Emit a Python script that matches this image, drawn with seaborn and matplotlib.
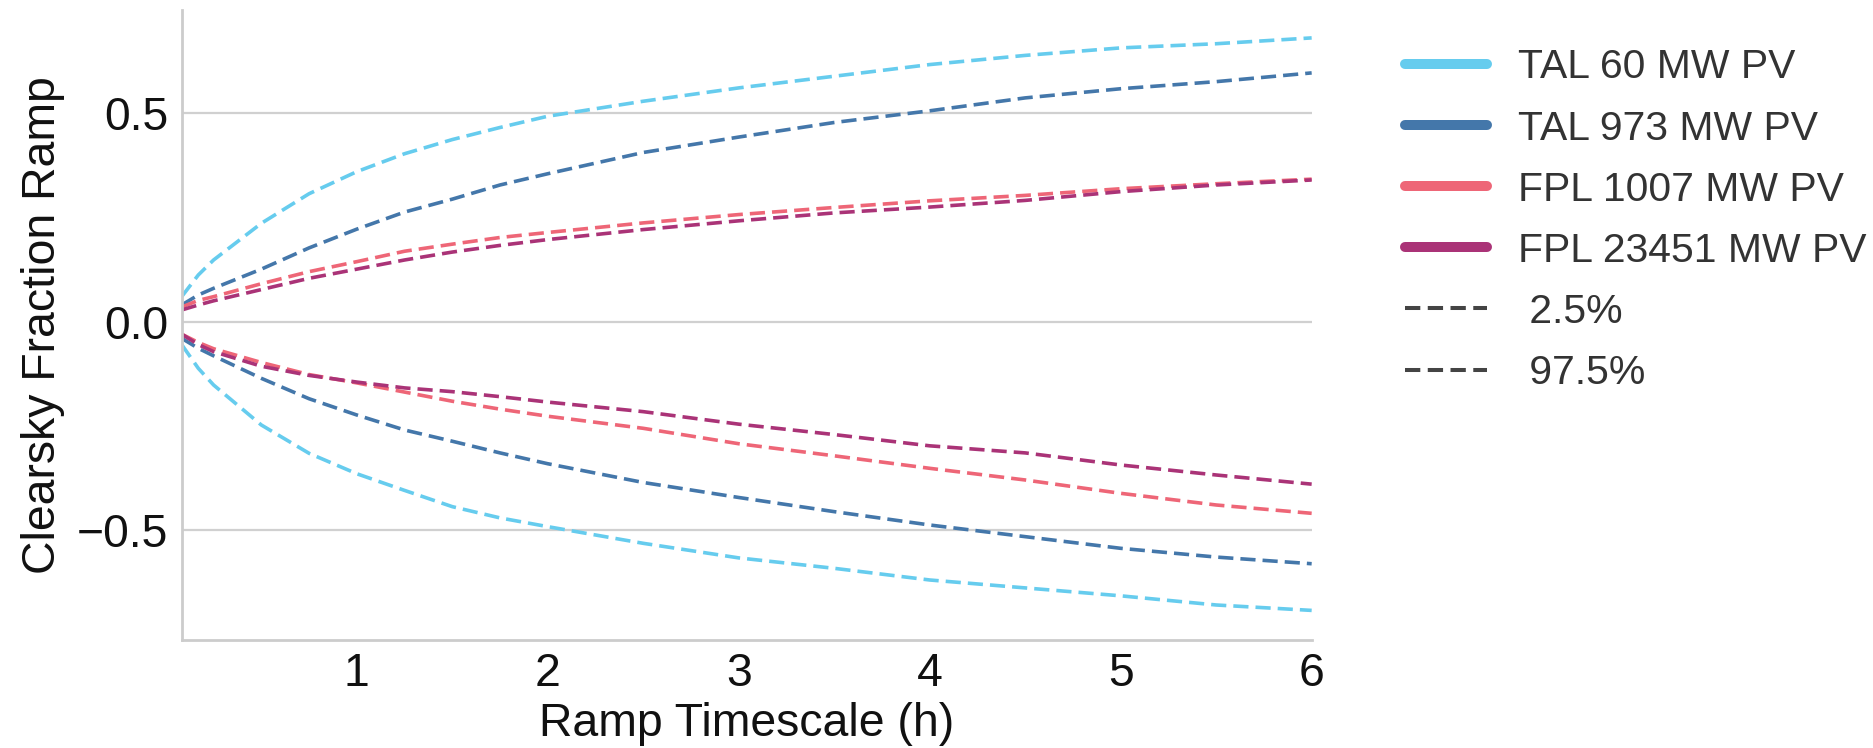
import pandas as pd
import matplotlib.pyplot as plt
from matplotlib.lines import Line2D
import seaborn as sns

# Ramp timescale (hours) and clearsky-fraction ramp quantiles
hours = [0.083, 0.17, 0.25, 0.5, 0.75, 1, 1.25, 1.5, 1.75, 2, 2.5, 3, 3.5, 4, 4.5, 5, 5.5, 6]

tal60_hi = [0.060, 0.112, 0.148, 0.236, 0.307, 0.360, 0.403, 0.437, 0.466, 0.493, 0.529, 0.561, 0.589, 0.617, 0.639, 0.657, 0.667, 0.681]
tal973_hi = [0.040, 0.064, 0.080, 0.126, 0.177, 0.222, 0.263, 0.294, 0.328, 0.355, 0.406, 0.443, 0.478, 0.506, 0.537, 0.559, 0.576, 0.597]
fpl1007_hi = [0.035, 0.051, 0.060, 0.091, 0.120, 0.144, 0.169, 0.186, 0.202, 0.214, 0.237, 0.257, 0.274, 0.290, 0.303, 0.319, 0.331, 0.342]
fpl23451_hi = [0.028, 0.040, 0.050, 0.077, 0.104, 0.126, 0.148, 0.167, 0.183, 0.197, 0.221, 0.242, 0.261, 0.275, 0.291, 0.312, 0.328, 0.340]

tal60_lo = [-0.055, -0.112, -0.152, -0.248, -0.316, -0.365, -0.405, -0.444, -0.471, -0.492, -0.532, -0.567, -0.592, -0.620, -0.639, -0.658, -0.680, -0.693]
tal973_lo = [-0.040, -0.064, -0.082, -0.136, -0.185, -0.224, -0.260, -0.287, -0.315, -0.341, -0.386, -0.422, -0.456, -0.488, -0.516, -0.544, -0.565, -0.581]
fpl1007_lo = [-0.030, -0.050, -0.065, -0.098, -0.127, -0.147, -0.169, -0.191, -0.210, -0.227, -0.256, -0.293, -0.322, -0.352, -0.380, -0.412, -0.440, -0.460]
fpl23451_lo = [-0.030, -0.055, -0.072, -0.107, -0.129, -0.145, -0.159, -0.168, -0.180, -0.193, -0.216, -0.246, -0.271, -0.298, -0.315, -0.344, -0.368, -0.390]

sites = ['TAL 60 MW PV', 'TAL 973 MW PV', 'FPL 1007 MW PV', 'FPL 23451 MW PV']
quantiles = [' 2.5%', ' 97.5%']
colors = ['#66CCEE', '#4477AA', '#EE6677', '#AA3377']

lows = [tal60_lo, tal973_lo, fpl1007_lo, fpl23451_lo]
highs = [tal60_hi, tal973_hi, fpl1007_hi, fpl23451_hi]

# long-format table for seaborn
rows = []
for site, lo, hi in zip(sites, lows, highs):
    for q, vals in zip(quantiles, [lo, hi]):
        for h, v in zip(hours, vals):
            rows.append({'Timescale': h, 'Ramp': v, 'Site': site, 'Quantile': q})
df = pd.DataFrame(rows)

sns.set_theme(style='whitegrid')
plt.rcParams['font.family'] = ['Liberation Sans', 'DejaVu Sans']

fig = plt.figure(figsize=(18.73, 7.48), dpi=100)
ax = fig.add_axes([0.097, 0.1444, 0.6033, 0.8417])

sns.lineplot(
    data=df, x='Timescale', y='Ramp',
    hue='Site', hue_order=sites, palette=colors,
    style='Quantile', style_order=quantiles,
    dashes={' 2.5%': (4.2, 1.95), ' 97.5%': (4.2, 1.95)},
    units='Quantile', estimator=None,
    linewidth=2.6, legend=False, ax=ax,
)

ax.set_xlim(min(hours), max(hours))
ax.set_ylim(-0.764, 0.747)
ax.set_xticks([1, 2, 3, 4, 5, 6])
ax.set_yticks([-0.5, 0.0, 0.5])

ax.xaxis.grid(False)
ax.yaxis.grid(True, color='#d0d0d0', linewidth=1.6)
sns.despine(ax=ax)
for side in ['left', 'bottom']:
    ax.spines[side].set_color('#cccccc')
    ax.spines[side].set_linewidth(2.0)

ax.tick_params(axis='both', labelsize=33.4, length=0, colors='#111111')
ax.tick_params(axis='x', pad=8.5)
ax.tick_params(axis='y', pad=9.5)

ax.set_xlabel('Ramp Timescale (h)', fontsize=33.4, color='#111111', va='top')
ax.set_ylabel('Clearsky Fraction Ramp', fontsize=33.4, color='#111111')
ax.xaxis.set_label_coords(0.5, -0.099)
ax.yaxis.set_label_coords(-0.103, 0.5)

# legend: solid swatches for sites, dashed entries for quantiles
handles = [Line2D([], [], color=c, lw=7.2, solid_capstyle='round') for c in colors]
handles += [Line2D([], [], color='#444444', lw=2.9, linestyle=(0, (3.8, 1.85))) for _ in quantiles]
leg = fig.legend(
    handles, sites + quantiles,
    loc='upper left', bbox_to_anchor=(0.7416, 0.957),
    frameon=False, fontsize=29.4, handlelength=2.0, handletextpad=0.77,
    labelspacing=0.565, borderaxespad=0,
)
for t in leg.get_texts():
    t.set_color('#333333')

fig.savefig('out.png', dpi=100)
